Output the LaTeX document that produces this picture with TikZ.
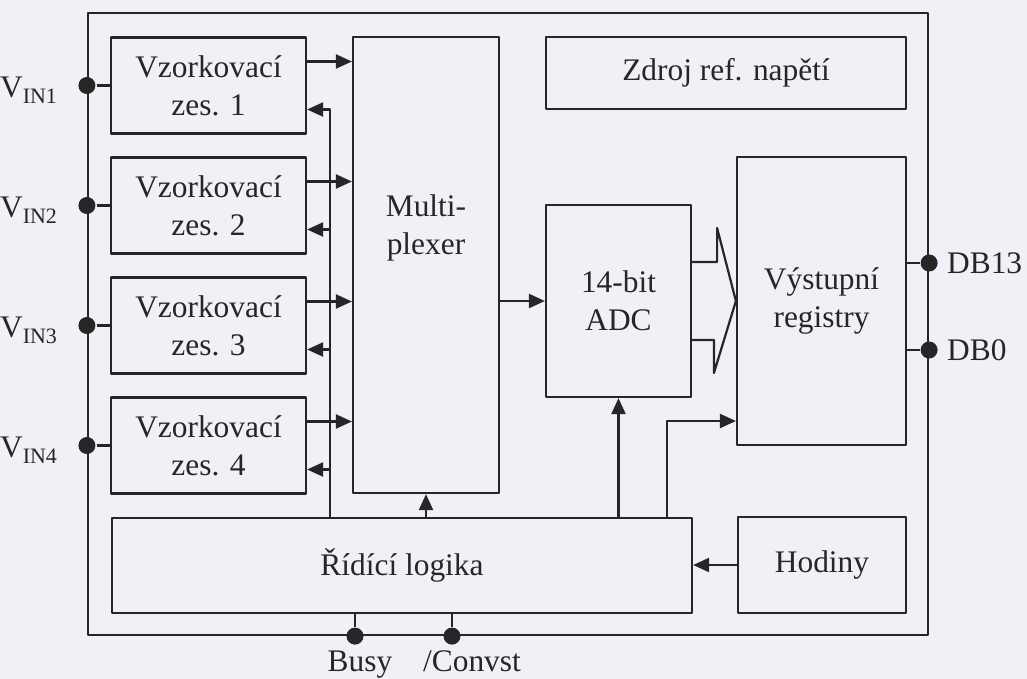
\documentclass[tikz,border=0pt]{standalone}
\usepackage{fontspec}
\setmainfont{Liberation Serif}
\usetikzlibrary{arrows.meta}
\definecolor{ink}{RGB}{38,38,38}
\definecolor{paper}{RGB}{239,241,247}
\begin{document}
\begin{tikzpicture}[x=1pt, y=-1pt, line width=2.2pt, line join=round, color=ink,
		>={Triangle[length=16pt,width=14pt]}, font=\fontsize{31.4}{38}\selectfont,
		box/.style 2 args={draw, minimum width=#1, minimum height=#2, inner sep=0pt, align=center},
		pin/.style={circle, fill, inner sep=0pt, minimum size=17pt}]
			\def\dy{24}
			\def\vw{195}
			\def\vh{96}
			\useasboundingbox[fill=paper] (0,0) rectangle (1027,679);
			\node[box={840}{622}] (chip) at (508,324) {};
			\foreach \i/\y in {1/85.5,2/205.5,3/325.5,4/445.5}{
				\node[box={\vw}{\vh}] (vz\i) at (208.5,\y) {Vzorkovací\\zes. \i};
				\coordinate (o\i) at ([yshift=\dy pt]vz\i.east);
				\coordinate (b\i) at ([yshift=-\dy pt]vz\i.east);
			}
			\node[box={146}{456}] (mux) at (426,265) {};
			\node[align=center] (muxt) at (426,228) {Multi-\\plexer};
			\node[box={360}{72}] (ref) at (726,73) {Zdroj ref. napětí};
			\node[box={145}{192}] (adc) at (618.5,301) {14-bit\\ADC};
			\node[box={169}{288}] (reg) at (821.5,301) {Výstupní\\registry};
			\node[box={580}{95}] (rid) at (402,565.5) {Řídící logika};
			\node[box={168}{96}] (hod) at (822,565) {Hodiny};
			\coordinate (cb) at (330,0);
			\coordinate (cr) at (667,0);
			\foreach \i in {1,...,4}{
				\node[pin] (in\i) at (chip.west |- vz\i.west) {};
				\node[anchor=base east] (lin\i) at ([xshift=-25pt, yshift=-12pt]in\i.center) {V\textsubscript{IN\i}};
				\draw (in\i) -- (vz\i);
				\draw[->] (o\i) -- (o\i -| mux.west);
			}
			\draw[->] (rid.north -| cb) |- (b1);
			\foreach \i in {2,3,4}
				\draw[->] (b\i -| cb) -- (b\i);
			\draw[->] (rid.north -| mux.south) -- (mux.south);
			\draw[->] (mux.east |- adc.west) -- (adc.west);
			\draw[->] (rid.north -| adc.south) -- (adc.south);
			\draw[->] (rid.north -| cr) |- ([yshift=-120pt]reg.west);
			\draw[->] (hod.west) -- (hod.west -| rid.east);
			\draw ([yshift=39pt]adc.east) -- ++(25,0) -- ++(0,-34) -- (reg.west) -- ++(-22,72) -- ++(0,-33) -- ([yshift=-39pt]adc.east);
			\node[pin] (db13) at ([yshift=38pt]reg.east -| chip.east) {};
			\node[pin] (db0) at ([yshift=-49pt]reg.east -| chip.east) {};
			\draw (reg.east |- db13) -- (db13);
			\draw (reg.east |- db0) -- (db0);
			\node[anchor=west] (ldb13) at ([xshift=4pt]db13.east) {DB13};
			\node[anchor=west] (ldb0) at ([xshift=4pt]db0.east) {DB0};
			\node[pin] (busy) at (355,0 |- chip.south) {};
			\node[pin] (conv) at (452,0 |- chip.south) {};
			\draw (busy) -- (busy |- rid.south);
			\draw (conv) -- (conv |- rid.south);
			\node[anchor=base] (lbusy) at (360,671) {Busy};
			\node[anchor=base] (lconv) at (472,671) {/Convst};
		\end{tikzpicture}
\end{document}
